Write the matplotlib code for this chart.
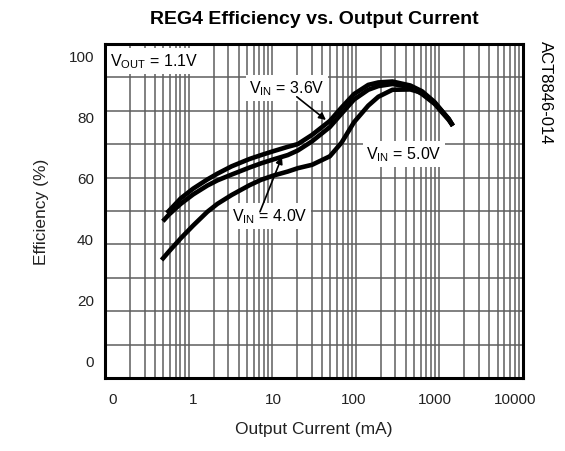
import numpy as np
import matplotlib
matplotlib.use('Agg')
import matplotlib.pyplot as plt

plt.rcParams['font.family'] = ['Liberation Sans', 'DejaVu Sans']
plt.rcParams['mathtext.fontset'] = 'custom'
plt.rcParams['mathtext.rm'] = 'Liberation Sans'

# output current (mA) and efficiency (%)
i_36 = [0.47, 0.5, 0.7, 1, 1.5, 2, 3, 5, 7, 10, 15, 20, 30, 50, 70, 100,
        150, 200, 300, 500, 700, 1000, 1500, 1690]
eff_36 = [48.4, 49.1, 53.2, 56.4, 59.4, 61.3, 63.7, 66.1, 67.4, 68.7, 70.1, 71.0,
          74.0, 78.6, 83.0, 87.4, 90.4, 91.2, 91.5, 90.2, 88.3, 84.8, 79.2, 77.0]

i_40 = [0.42, 0.5, 0.7, 1, 1.5, 2, 3, 5, 7, 10, 15, 20, 30, 50, 70, 100,
        150, 200, 300, 500, 700, 1000, 1500, 1690]
eff_40 = [45.7, 47.9, 51.4, 54.5, 57.4, 59.1, 61.0, 63.3, 64.7, 66.0, 67.4, 68.9,
          71.9, 76.6, 81.0, 85.6, 88.8, 90.0, 90.7, 89.7, 87.4, 84.2, 78.9, 77.0]

i_50 = [0.405, 0.5, 0.7, 1, 1.5, 2, 3, 5, 7, 10, 15, 20, 30, 50, 70, 100,
        150, 200, 300, 500, 700, 1000, 1500, 1690]
eff_50 = [33.0, 35.8, 40.1, 44.3, 48.8, 51.4, 54.3, 57.5, 59.3, 60.7, 62.0, 63.1,
          64.2, 67.0, 71.5, 78.2, 83.6, 86.5, 88.8, 88.9, 87.8, 84.5, 79.3, 77.0]

x_ticks = [0.1, 1, 10, 100, 1000, 10000]
x_labels = ['0', '1', '10', '100', '1000', '10000']
y_ticks = [0, 20, 40, 60, 80, 100]

fig = plt.figure(figsize=(5.65, 4.52), dpi=100)
pos = [105 / 565, 73 / 452, 417.7 / 565, 334 / 452]

# scanned grid does not line up with the tick labels, so it gets its own axes
gax = fig.add_axes(pos)
gax.set_xscale('log')
gax.set_xlim(1, 1e5)
gax.set_ylim(0, 10)
gax.set_yticks(np.arange(0, 11))
gax.xaxis.set_major_locator(matplotlib.ticker.LogLocator(base=10))
gax.xaxis.set_minor_locator(matplotlib.ticker.LogLocator(base=10, subs=np.arange(2, 10)))
gax.grid(True, which='both', color='#5e5e5e', lw=1.1)
gax.tick_params(which='both', length=0, labelbottom=False, labelleft=False)
for s in gax.spines.values():
    s.set_visible(False)

ax = fig.add_axes(pos)
ax.patch.set_alpha(0)
ax.set_xscale('log')
ax.set_xlim(0.0802, 12466)
ax.set_ylim(-5.67, 103.8)

ax.plot(i_36, eff_36, color='black', lw=3.3, solid_capstyle='butt', solid_joinstyle='round', zorder=5)
ax.plot(i_40, eff_40, color='black', lw=3.3, solid_capstyle='butt', solid_joinstyle='round', zorder=5)
ax.plot(i_50, eff_50, color='black', lw=3.3, solid_capstyle='butt', solid_joinstyle='round', zorder=5)

ax.set_xticks(x_ticks)
ax.set_xticklabels(x_labels)
ax.xaxis.set_minor_locator(matplotlib.ticker.NullLocator())
ax.set_yticks(y_ticks)
ax.tick_params(axis='both', length=0, labelsize=11, colors='#222222')
ax.tick_params(axis='x', pad=10)
ax.tick_params(axis='y', pad=8)
for s in ax.spines.values():
    s.set_linewidth(2.2)
    s.set_color('black')

ax.set_xlabel('Output Current (mA)', fontsize=12.5, labelpad=11, color='#222222')
ax.set_ylabel('Efficiency (%)', fontsize=12.5, labelpad=14, color='#222222')
fig.text(0.556, 0.957, 'REG4 Efficiency vs. Output Current', ha='center', va='center',
         fontsize=14, fontweight='bold')
fig.text(0.965, 0.795, 'ACT8846-014', rotation=-90, ha='center', va='center', fontsize=12)

box = dict(facecolor='white', edgecolor='none', pad=2.5)
ax.text(0.093, 98.3, r'V$_{\mathrm{OUT}}$ = 1.1V', ha='left', va='center', fontsize=11.5, bbox=box, zorder=4)
ax.text(14.6, 89.4, r'V$_{\mathrm{IN}}$ = 3.6V', ha='center', va='center', fontsize=11.5, bbox=box, zorder=4)
ax.text(9.0, 47.4, r'V$_{\mathrm{IN}}$ = 4.0V', ha='center', va='center', fontsize=11.5, bbox=box, zorder=4)
ax.text(416, 67.8, r'V$_{\mathrm{IN}}$ = 5.0V', ha='center', va='center', fontsize=11.5, bbox=box, zorder=4)

arrow = dict(arrowstyle='-|>', color='black', lw=1.2, mutation_scale=10, shrinkA=0, shrinkB=0)
ax.annotate('', xy=(44.7, 78.9), xytext=(19.4, 86.5), arrowprops=arrow, zorder=6)
ax.annotate('', xy=(12.7, 66.8), xytext=(6.76, 48.8), arrowprops=arrow, zorder=6)

fig.savefig('out.png', dpi=100)
